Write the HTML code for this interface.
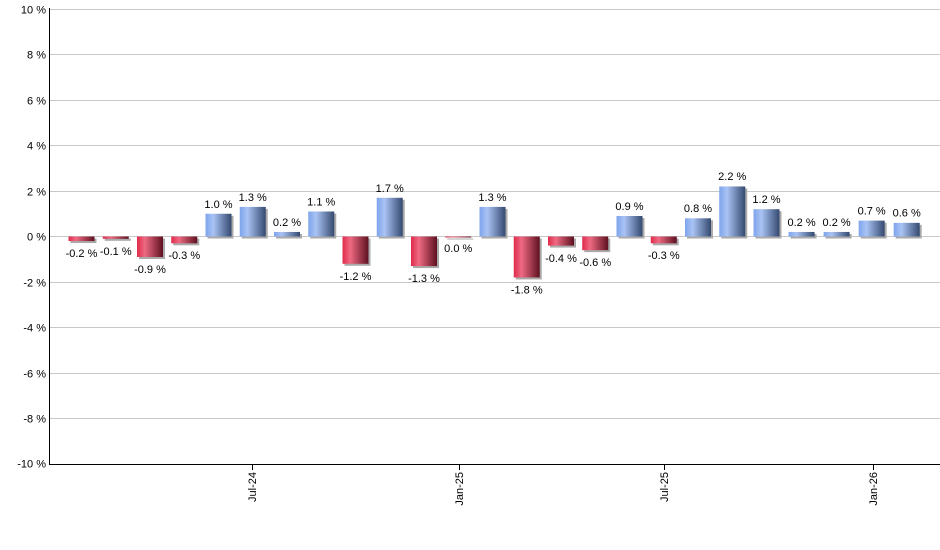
<!DOCTYPE html>
<html><head><meta charset="utf-8"><style>
html,body{margin:0;padding:0;background:#fff;}
svg{display:block;font-family:"Liberation Sans",sans-serif;}
</style></head><body>
<svg width="940" height="550" viewBox="0 0 940 550" xmlns="http://www.w3.org/2000/svg">
<defs>
<linearGradient id="b" x1="0" x2="1" y1="0" y2="0">
<stop offset="0" stop-color="#7fa4ec"/><stop offset="0.3" stop-color="#a9c3f4"/><stop offset="1" stop-color="#34496f"/>
</linearGradient>
<linearGradient id="r" x1="0" x2="1" y1="0" y2="0">
<stop offset="0" stop-color="#e02a4c"/><stop offset="0.3" stop-color="#ee6a82"/><stop offset="1" stop-color="#5e1020"/>
</linearGradient>
</defs>
<g stroke="#c8c8c8" stroke-width="1">
<line x1="50" x2="940" y1="9.5" y2="9.5"/>
<line x1="50" x2="940" y1="54.5" y2="54.5"/>
<line x1="50" x2="940" y1="100.5" y2="100.5"/>
<line x1="50" x2="940" y1="145.5" y2="145.5"/>
<line x1="50" x2="940" y1="191.5" y2="191.5"/>
<line x1="50" x2="940" y1="236.5" y2="236.5"/>
<line x1="50" x2="940" y1="282.5" y2="282.5"/>
<line x1="50" x2="940" y1="327.5" y2="327.5"/>
<line x1="50" x2="940" y1="373.5" y2="373.5"/>
<line x1="50" x2="940" y1="418.5" y2="418.5"/>
</g>
<g font-size="11" fill="#000" text-anchor="end">
<text x="46" y="13.5">10 %</text>
<text x="46" y="58.5">8 %</text>
<text x="46" y="104.5">6 %</text>
<text x="46" y="149.5">4 %</text>
<text x="46" y="195.5">2 %</text>
<text x="46" y="240.5">0 %</text>
<text x="46" y="286.5">-2 %</text>
<text x="46" y="331.5">-4 %</text>
<text x="46" y="377.5">-6 %</text>
<text x="46" y="422.5">-8 %</text>
<text x="46" y="467.5">-10 %</text>
</g>
<g fill="#aaa">
<rect x="70.5" y="238.5" width="26" height="4.55"/>
<rect x="104.75" y="238.5" width="26" height="2.3"/>
<rect x="139" y="238.5" width="26" height="20.5"/>
<rect x="173.25" y="238.5" width="26" height="6.8"/>
<rect x="207.5" y="215.75" width="26" height="22.75"/>
<rect x="241.75" y="208.9" width="26" height="29.6"/>
<rect x="276" y="233.95" width="26" height="4.55"/>
<rect x="310.25" y="213.5" width="26" height="25"/>
<rect x="344.5" y="238.5" width="26" height="27.3"/>
<rect x="378.75" y="199.8" width="26" height="38.7"/>
<rect x="413" y="238.5" width="26" height="29.6"/>
<rect x="447.25" y="238.5" width="26" height="1"/>
<rect x="481.5" y="208.9" width="26" height="29.6"/>
<rect x="515.75" y="238.5" width="26" height="40.95"/>
<rect x="550" y="238.5" width="26" height="9.1"/>
<rect x="584.25" y="238.5" width="26" height="13.65"/>
<rect x="618.5" y="218" width="26" height="20.5"/>
<rect x="652.75" y="238.5" width="26" height="6.8"/>
<rect x="687" y="220.3" width="26" height="18.2"/>
<rect x="721.25" y="188.45" width="26" height="50.05"/>
<rect x="755.5" y="211.2" width="26" height="27.3"/>
<rect x="790.55" y="233.95" width="26" height="4.55"/>
<rect x="825.6" y="233.95" width="26" height="4.55"/>
<rect x="860.65" y="222.6" width="26" height="15.9"/>
<rect x="895.7" y="224.85" width="26" height="13.65"/>
</g>
<rect x="68.5" y="236.5" width="26" height="4.55" fill="url(#r)"/>
<rect x="102.75" y="236.5" width="26" height="2.3" fill="url(#r)"/>
<rect x="137" y="236.5" width="26" height="20.5" fill="url(#r)"/>
<rect x="171.25" y="236.5" width="26" height="6.8" fill="url(#r)"/>
<rect x="205.5" y="213.75" width="26" height="22.75" fill="url(#b)"/>
<rect x="239.75" y="206.9" width="26" height="29.6" fill="url(#b)"/>
<rect x="274" y="231.95" width="26" height="4.55" fill="url(#b)"/>
<rect x="308.25" y="211.5" width="26" height="25" fill="url(#b)"/>
<rect x="342.5" y="236.5" width="26" height="27.3" fill="url(#r)"/>
<rect x="376.75" y="197.8" width="26" height="38.7" fill="url(#b)"/>
<rect x="411" y="236.5" width="26" height="29.6" fill="url(#r)"/>
<rect x="445.25" y="236.5" width="26" height="1" fill="url(#r)"/>
<rect x="479.5" y="206.9" width="26" height="29.6" fill="url(#b)"/>
<rect x="513.75" y="236.5" width="26" height="40.95" fill="url(#r)"/>
<rect x="548" y="236.5" width="26" height="9.1" fill="url(#r)"/>
<rect x="582.25" y="236.5" width="26" height="13.65" fill="url(#r)"/>
<rect x="616.5" y="216" width="26" height="20.5" fill="url(#b)"/>
<rect x="650.75" y="236.5" width="26" height="6.8" fill="url(#r)"/>
<rect x="685" y="218.3" width="26" height="18.2" fill="url(#b)"/>
<rect x="719.25" y="186.45" width="26" height="50.05" fill="url(#b)"/>
<rect x="753.5" y="209.2" width="26" height="27.3" fill="url(#b)"/>
<rect x="788.55" y="231.95" width="26" height="4.55" fill="url(#b)"/>
<rect x="823.6" y="231.95" width="26" height="4.55" fill="url(#b)"/>
<rect x="858.65" y="220.6" width="26" height="15.9" fill="url(#b)"/>
<rect x="893.7" y="222.85" width="26" height="13.65" fill="url(#b)"/>
<g font-size="11" fill="#000" text-anchor="middle">
<text x="81.5" y="257">-0.2 %</text>
<text x="115.75" y="255">-0.1 %</text>
<text x="150" y="273">-0.9 %</text>
<text x="184.25" y="259">-0.3 %</text>
<text x="218.5" y="208">1.0 %</text>
<text x="252.75" y="201">1.3 %</text>
<text x="287" y="226">0.2 %</text>
<text x="321.25" y="205.5">1.1 %</text>
<text x="355.5" y="280">-1.2 %</text>
<text x="389.75" y="192">1.7 %</text>
<text x="424" y="282">-1.3 %</text>
<text x="458.25" y="252">0.0 %</text>
<text x="492.5" y="201">1.3 %</text>
<text x="526.75" y="293.5">-1.8 %</text>
<text x="561" y="262">-0.4 %</text>
<text x="595.25" y="266">-0.6 %</text>
<text x="629.5" y="210">0.9 %</text>
<text x="663.75" y="259">-0.3 %</text>
<text x="698" y="212">0.8 %</text>
<text x="732.25" y="180">2.2 %</text>
<text x="766.5" y="203">1.2 %</text>
<text x="801.55" y="226">0.2 %</text>
<text x="836.6" y="226">0.2 %</text>
<text x="871.65" y="214.5">0.7 %</text>
<text x="906.7" y="216.5">0.6 %</text>
</g>
<line x1="49.5" y1="8" x2="49.5" y2="464" stroke="#000"/>
<line x1="49" y1="464.5" x2="940" y2="464.5" stroke="#000"/>
<g stroke="#000">
<line x1="252.5" x2="252.5" y1="464" y2="470"/>
<line x1="459.5" x2="459.5" y1="464" y2="470"/>
<line x1="664.5" x2="664.5" y1="464" y2="470"/>
<line x1="873.5" x2="873.5" y1="464" y2="470"/>
</g>
<g font-size="11" fill="#000" text-anchor="end">
<text transform="translate(256,472) rotate(-90)">Jul-24</text>
<text transform="translate(463,472) rotate(-90)">Jan-25</text>
<text transform="translate(668,472) rotate(-90)">Jul-25</text>
<text transform="translate(877,472) rotate(-90)">Jan-26</text>
</g>
</svg>
</body></html>
